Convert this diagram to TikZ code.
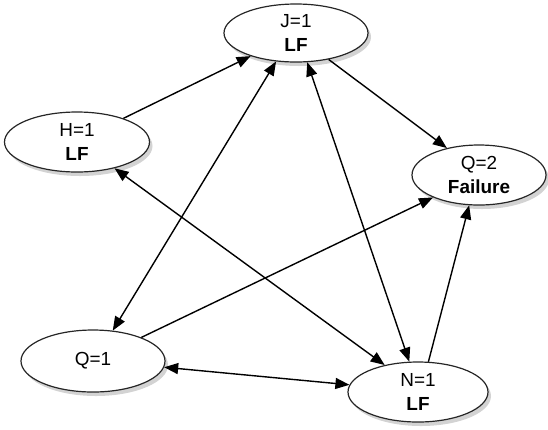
\documentclass[tikz,border=0pt]{standalone}
\usepackage{fontspec}
\setmainfont{Liberation Sans}
\usetikzlibrary{arrows.meta,shapes.geometric,shadows}
\begin{document}
\begin{tikzpicture}[x=1bp,y=-1bp,
  state/.style={ellipse, draw=black!85, line width=1.2bp, fill=white, align=center, inner sep=0pt,
    font=\fontsize{19}{24}\selectfont,
    drop shadow={opacity=0.35, shadow xshift=3bp, shadow yshift=-4bp}},
  link/.style={line width=1.4bp, -{Triangle[length=14bp,width=11bp]}},
  bilink/.style={line width=1.4bp, {Triangle[length=14bp,width=11bp]}-{Triangle[length=14bp,width=11bp]}}]
\useasboundingbox (0,0) rectangle (548,429);
\node[state, minimum width=144bp, minimum height=58bp] (J) at (296,33) {J=1\\\textbf{LF}};
\node[state, minimum width=145bp, minimum height=60bp] (H) at (77,142) {H=1\\\textbf{LF}};
\node[state, minimum width=134bp, minimum height=60bp] (Q2) at (479,175) {Q=2\\\textbf{Failure}};
\node[state, minimum width=144bp, minimum height=62bp] (Q1) at (93,361) {Q=1};
\node[state, minimum width=140bp, minimum height=60bp] (N) at (418,392) {N=1\\\textbf{LF}};
\draw[link] (H.27) -- (J.207);
\draw[link] (J.321) -- (Q2.140);
\draw[bilink] (J.235) -- (Q1.57);
\draw[bilink] (J.291) -- (N.106);
\draw[bilink] (H.325) -- (N.141);
\draw[link] (Q1.26) -- (Q2.206);
\draw[link] (N.71) -- (Q2.252);
\draw[bilink] (Q1.355) -- (N.174);
\end{tikzpicture}
\end{document}
